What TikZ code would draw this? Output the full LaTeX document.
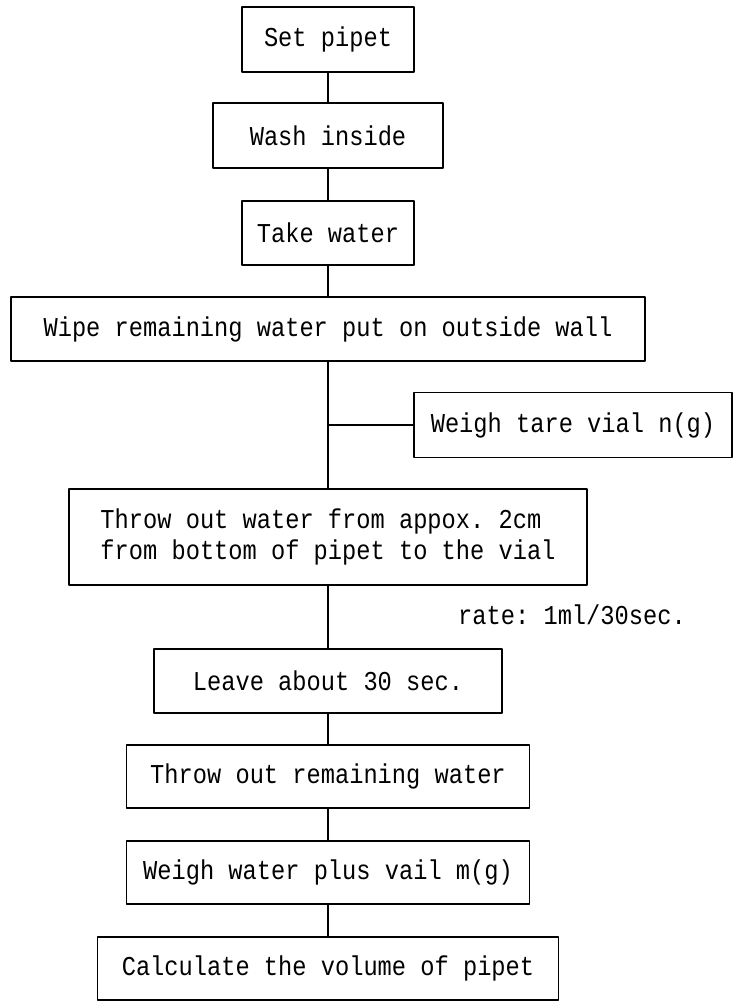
\documentclass[tikz,border=0pt]{standalone}
\usepackage{fontspec}
\setmonofont[FakeStretch=0.87]{Liberation Mono}
\begin{document}
\begin{tikzpicture}[x=1cm,y=1cm,line cap=round,line join=round,
  font=\ttfamily\fontsize{15.5}{18}\selectfont,
  stepbox/.style={draw,line width=0.8pt,inner sep=0pt,minimum height=1.28cm}]
  \useasboundingbox (0,0) rectangle (14.70,-20.16);
  \node[stepbox,minimum width=3.44cm,minimum height=1.30cm] (set) at (6.56,-0.79) {Set pipet};
  \node[stepbox,minimum width=4.60cm,minimum height=1.30cm] (wash) at (6.56,-2.71) {Wash inside};
  \node[stepbox,minimum width=3.44cm] (take) at (6.56,-4.66) {Take water};
  \node[stepbox,minimum width=12.68cm] (wipe) at (6.56,-6.58) {Wipe remaining water put on outside wall};
  \node[stepbox,minimum width=6.36cm,minimum height=1.30cm] (tare) at (11.46,-8.50) {Weigh tare vial n(g)};
  \node[stepbox,minimum width=10.36cm,minimum height=1.92cm,align=left] (throw) at (6.56,-10.74)
    {Throw out water from appox. 2cm\\from bottom of pipet to the vial};
  \node (rate) at (11.44,-12.30) {rate: 1ml/30sec.};
  \node[stepbox,minimum width=6.96cm] (leave) at (6.56,-13.62) {Leave about 30 sec.};
  \node[stepbox,minimum width=8.06cm,minimum height=1.26cm] (rest) at (6.56,-15.53) {Throw out remaining water};
  \node[stepbox,minimum width=8.06cm,minimum height=1.26cm] (weigh) at (6.56,-17.45) {Weigh water plus vail m(g)};
  \node[stepbox,minimum width=9.22cm,minimum height=1.26cm] (calc) at (6.56,-19.37) {Calculate the volume of pipet};
  % trunk
  \draw[line width=0.6pt] (set) -- (wash);
  \draw[line width=0.6pt] (wash) -- (take);
  \draw[line width=0.6pt] (take) -- (wipe);
  \draw[line width=0.6pt] (wipe) -- (throw);
  \draw[line width=0.6pt] (throw) -- (leave);
  \draw[line width=0.6pt] (leave) -- (rest);
  \draw[line width=0.6pt] (rest) -- (weigh);
  \draw[line width=0.6pt] (weigh) -- (calc);
  % side branch
  \coordinate (j) at (wipe.south |- tare.west);
  \draw[line width=0.6pt] (tare) -- (j);
\end{tikzpicture}
\end{document}
